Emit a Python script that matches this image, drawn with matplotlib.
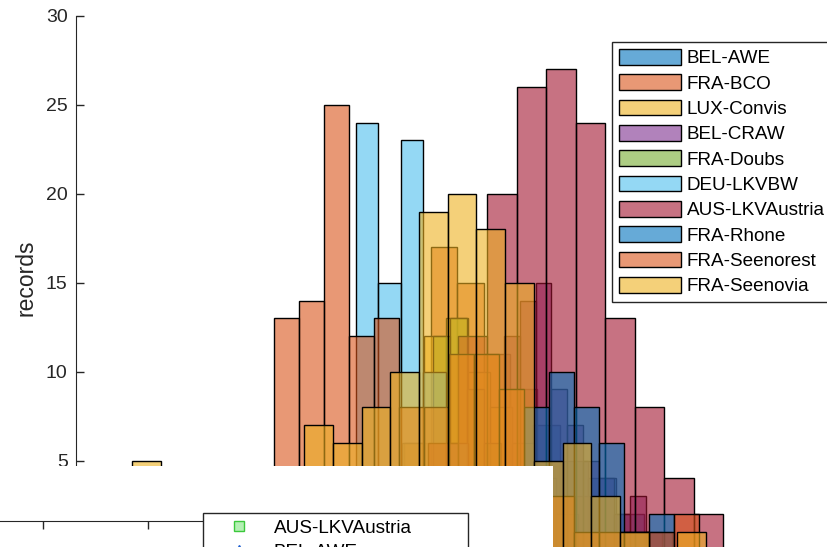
import numpy as np
import matplotlib
matplotlib.use("Agg")
import matplotlib.pyplot as plt
from matplotlib.patches import Patch
from matplotlib.lines import Line2D

plt.rcParams['font.family'] = ['Liberation Sans', 'DejaVu Sans']

# series names, in plotting order
names = ['BEL-AWE', 'FRA-BCO', 'LUX-Convis', 'BEL-CRAW', 'FRA-Doubs',
         'DEU-LKVBW', 'AUS-LKVAustria', 'FRA-Rhone', 'FRA-Seenorest', 'FRA-Seenovia']

# first bin edge and bin width of each histogram
bin_start = [42.8, 32.8, 30.4, 42.8, 35.7, 25.7, 32.25, 42.3, 19.8, 5.6]
bin_width = [2.8, 2.65, 2.2, 1.575, 1.7, 2.25, 2.95, 2.5, 2.5, 2.87]

# counts per bin
bel_awe = [3, 7, 5, 4, 2, 1]
fra_bco = [6, 17, 15, 11, 9, 5, 3, 1]
lux_convis = [4, 6, 12, 13, 10, 8, 6, 4, 2, 1]
bel_craw = [12, 14, 15, 9, 7, 5, 4, 2, 3, 1]
fra_doubs = [12, 13, 9, 6, 4, 2]
deu_lkvbw = [0, 24, 15, 23, 10, 6, 3, 1]
aus_lkv = [2, 6, 12, 20, 26, 27, 24, 13, 8, 4, 2]
fra_rhone = [4, 8, 10, 8, 6, 1, 2]
fra_seenorest = [13, 14, 25, 12, 13, 8, 8, 11, 11, 9, 4, 3, 1, 1, 1, 1, 2]
fra_seenovia = [5, 0, 0, 0, 0, 0, 7, 6, 8, 10, 19, 20, 18, 15, 5, 6, 3, 1, 0, 1]

counts = [bel_awe, fra_bco, lux_convis, bel_craw, fra_doubs,
          deu_lkvbw, aus_lkv, fra_rhone, fra_seenorest, fra_seenovia]

# matlab default color order
mcols = [(0, 0.447, 0.741), (0.85, 0.325, 0.098), (0.929, 0.694, 0.125),
         (0.494, 0.184, 0.556), (0.466, 0.674, 0.188), (0.301, 0.745, 0.933),
         (0.635, 0.078, 0.184)]

W, H = 827, 547
fig = plt.figure(figsize=(W/100, H/100), dpi=100)
ax = fig.add_axes([76/W, -2.5/H, 1 - 76/W, 533.5/H])

handles = []
for i, (nm, c) in enumerate(zip(names, counts)):
    col = mcols[i % 7]
    edges = bin_start[i] + bin_width[i]*np.arange(len(c))
    ax.bar(edges, c, width=bin_width[i], align='edge',
           facecolor=col + (0.6,), edgecolor='black', linewidth=1.0)
    handles.append(Patch(facecolor=col + (0.6,), edgecolor='black', linewidth=1.0, label=nm))

ax.set_xlim(0, 75.1)
ax.set_ylim(0, 30)
ax.set_yticks(np.arange(5, 31, 5))
ax.set_xticks([])
for s in ['top', 'right', 'bottom']:
    ax.spines[s].set_visible(False)
ax.spines['left'].set_color('#262626')
ax.tick_params(axis='y', direction='in', length=6, width=1, colors='#262626',
               labelsize=14, pad=6)
ax.set_ylabel('records', fontsize=16.5, color='#262626')
ax.yaxis.set_label_coords(-39/751, 0.51)

ax.legend(handles=handles, loc='upper left', bbox_to_anchor=(612/W, 1 - 42/H),
          bbox_transform=fig.transFigure, fontsize=13.6, fancybox=False,
          edgecolor='#262626', framealpha=1, handlelength=3.3, handleheight=0.9,
          labelspacing=0.37, handletextpad=0.28, borderpad=0.37, borderaxespad=0)

# second window lying over the bottom left corner
cover = fig.add_axes([0, 0, 553/W, 81/H], zorder=5)
cover.set_facecolor('white')
cover.set_xticks([])
cover.set_yticks([])
for s in cover.spines.values():
    s.set_visible(False)

ax2 = fig.add_axes([0, -0.3, 400/W, 0.3 + 26.3/H], zorder=6)
ax2.patch.set_alpha(0)
ax2.set_xlim(0.59, 4.4)
ax2.set_xticks([1, 2, 3])
ax2.set_yticks([])
for s in ['left', 'right', 'bottom']:
    ax2.spines[s].set_visible(False)
ax2.spines['top'].set_color('#262626')
ax2.xaxis.set_ticks_position('top')
ax2.tick_params(axis='x', direction='in', length=6, width=1, colors='#262626',
                labeltop=False, labelbottom=False)

h2 = [Line2D([], [], ls='none', marker='s', ms=7, mfc='#b4f0b4', mec='#3cc83c'),
      Line2D([], [], ls='none', marker='^', ms=7, mfc='#1f5fd0', mec='#1f5fd0')]
ax2.legend(h2, ['AUS-LKVAustria', 'BEL-AWE'], loc='upper left', mode='expand',
           bbox_to_anchor=(203/W, 1 - 513/H - 0.2, 265/W, 0.2),
           bbox_transform=fig.transFigure,
           fontsize=13.6, fancybox=False, edgecolor='#262626', framealpha=1,
           handlelength=3.1, handletextpad=0.3, borderpad=0.35,
           labelspacing=0.35, borderaxespad=0)

fig.savefig('out.png', dpi=100)
